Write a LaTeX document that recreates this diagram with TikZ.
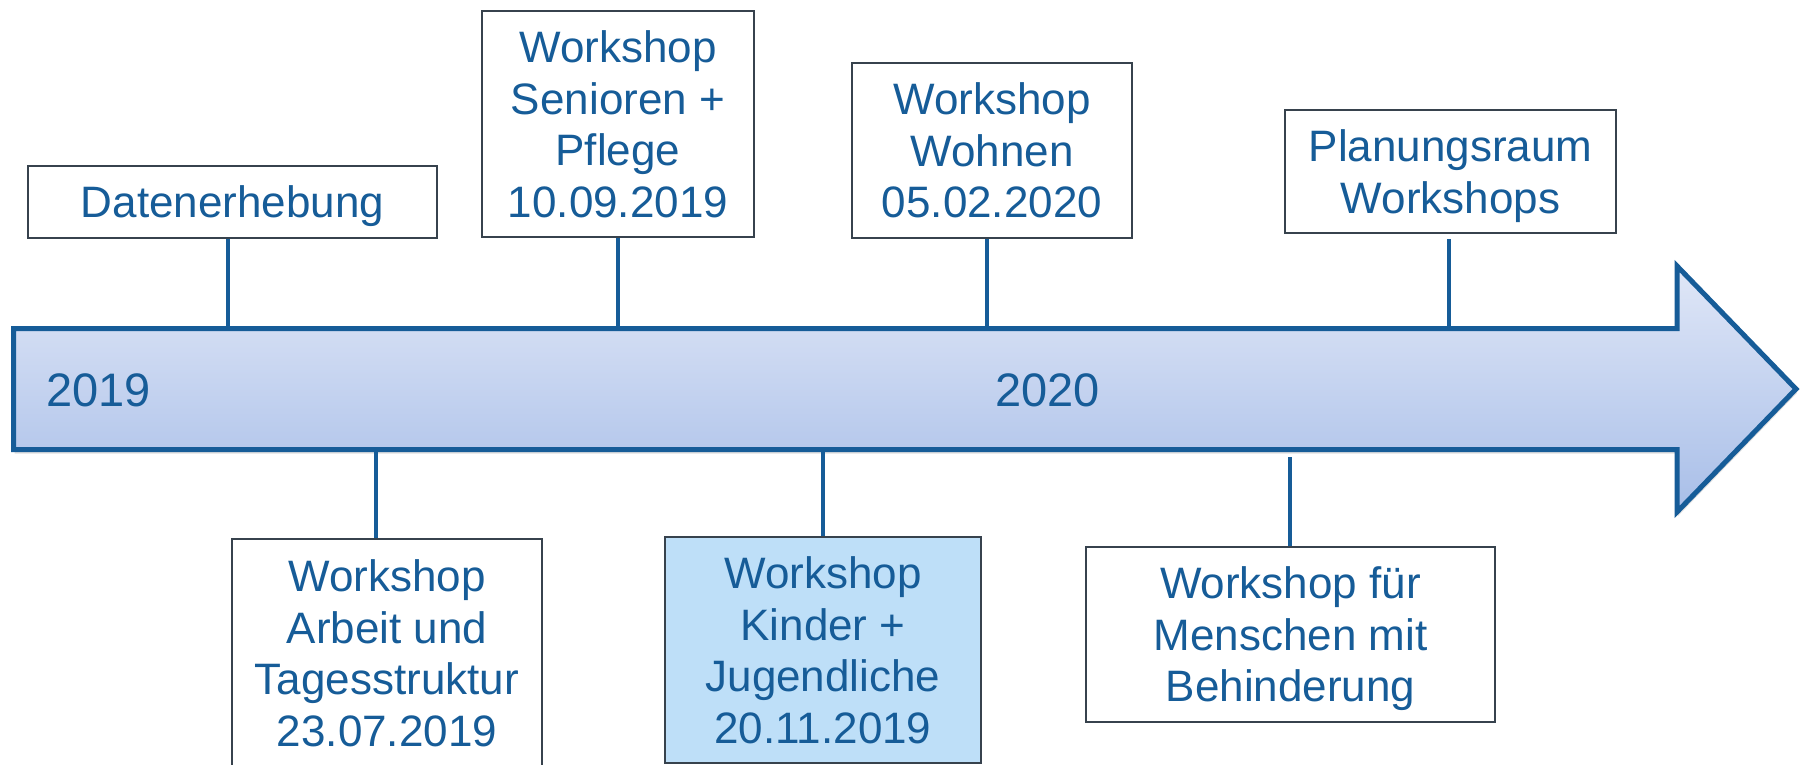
\documentclass[tikz,border=0pt]{standalone}
\usepackage{fontspec}
\setmainfont{Liberation Sans}
\usetikzlibrary{shadows}
\definecolor{tlblue}{RGB}{22,92,152}
\definecolor{tlframe}{RGB}{55,66,77}
\definecolor{tltop}{RGB}{224,231,247}
\definecolor{tlbottom}{RGB}{168,190,232}
\definecolor{tlhigh}{RGB}{190,223,248}
\begin{document}
\begin{tikzpicture}[x=1pt,y=-1pt,
	event/.style={rectangle,draw=tlframe,line width=1.8pt,fill=white,
		text=tlblue,align=center,inner sep=0pt,text depth=0pt,
		font=\fontsize{44}{51.5}\selectfont},
	yearlabel/.style={text=tlblue,inner sep=0pt,anchor=base west,
		font=\fontsize{47}{50}\selectfont},
	link/.style={color=tlblue,line width=3.4pt}]
	
	\useasboundingbox (0,0) rectangle (1806,764);
	
	\path[draw=tlblue,line width=5pt,line join=miter,
		top color=tltop,bottom color=tlbottom,
		drop shadow={opacity=0.25,shadow xshift=1pt,shadow yshift=-4pt}]
	(13.5,328.5) -- (1677,328.5) -- (1677,266) -- (1796,389)
	-- (1677,512) -- (1677,449.5) -- (13.5,449.5) -- cycle;
	
	\node[yearlabel] (y19) at (46,406) {2019};
	\node[yearlabel] (y20) at (995,406) {2020};
	
	\node[event,minimum width=409pt,minimum height=72pt] (daten) at (232.5,202) {Datenerhebung};
	\node[event,minimum width=272pt,minimum height=226pt] (senioren) at (618,124) {Workshop\\Senioren +\\Pflege\\10.09.2019};
	\node[event,minimum width=280pt,minimum height=175pt] (wohnen) at (992,150.5) {Workshop\\Wohnen\\05.02.2020};
	\node[event,minimum width=331pt,minimum height=123pt] (planung) at (1450.5,171.5) {Planungsraum\\Workshops};
	\node[event,minimum width=310pt,minimum height=228pt] (arbeit) at (387,653) {Workshop\\Arbeit und\\Tagesstruktur\\23.07.2019};
	\node[event,fill=tlhigh,minimum width=316pt,minimum height=226pt] (kinder) at (823,650) {Workshop\\Kinder +\\Jugendliche\\20.11.2019};
	\node[event,minimum width=409pt,minimum height=175pt] (behind) at (1290.5,634.5) {Workshop f\"ur\\Menschen mit\\Behinderung};
	
	\coordinate (p1) at (228,328.5);
	\coordinate (p2) at (618,328.5);
	\coordinate (p3) at (987,328.5);
	\coordinate (p4) at (1449,328.5);
	\coordinate (p5) at (376,449.5);
	\coordinate (p6) at (823,449.5);
	\coordinate (p7) at (1290,449.5);
	
	\path[link]
	(p1) edge (p1 |- daten.south)
	(p2) edge (p2 |- senioren.south)
	(p3) edge (p3 |- wohnen.south)
	(p4) edge [shorten >=5pt] (p4 |- planung.south)
	(p5) edge (p5 |- arbeit.north)
	(p6) edge (p6 |- kinder.north)
	(p7) edge [shorten <=7.5pt] (p7 |- behind.north);
\end{tikzpicture}
\end{document}
